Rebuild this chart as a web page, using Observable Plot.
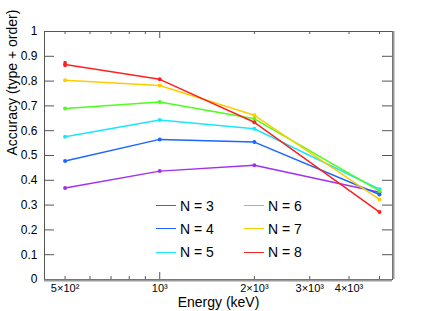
<!DOCTYPE html>
<html>
<head>
<meta charset="utf-8">
<script src="https://cdn.jsdelivr.net/npm/d3@7"></script>
<script src="https://cdn.jsdelivr.net/npm/@observablehq/plot@0.6"></script>
<style>
  html, body { margin: 0; padding: 0; background: #fff; }
  #wrap { position: relative; width: 436px; height: 311px; font-family: "Liberation Sans", Arial, sans-serif; }
  .leg { position: absolute; display: flex; align-items: center; font-size: 14px; color: #000; white-space: nowrap; }
  .leg span.sw { display: inline-block; width: 20px; height: 0; border-top: 1.5px solid; margin-right: 4px; }
</style>
</head>
<body>
<div id="wrap"></div>
<script>
const energies = [500, 1000, 2000, 5000];
const seriesNames = ["N = 3", "N = 4", "N = 5", "N = 6", "N = 7", "N = 8"];
const acc3 = [0.369, 0.437, 0.461, 0.352];
const acc4 = [0.478, 0.565, 0.554, 0.343];
const acc5 = [0.576, 0.643, 0.608, 0.364];
const acc6 = [0.690, 0.716, 0.648, 0.357];
const acc7 = [0.803, 0.782, 0.662, 0.323];
const acc8 = [0.867, 0.807, 0.634, 0.272];
const err8 = [0.012, 0, 0, 0];
const colors = ["#a030f0", "#1a66ff", "#19e6ff", "#4dff1a", "#ffcc00", "#ff2020"];
const xTickValues = [500, 1000, 2000, 3000, 4000];
const xTickLabels = ["5×10²", "10³", "2×10³", "3×10³", "4×10³"];
const xMinorTicks = [500, 600, 700, 800, 900, 2000, 3000, 4000, 5000];
const xMajorTicks = [1000];
const yTickValues = [0, 0.1, 0.2, 0.3, 0.4, 0.5, 0.6, 0.7, 0.8, 0.9, 1];

const allSeries = [acc3, acc4, acc5, acc6, acc7, acc8];
const data = [];
allSeries.forEach((vals, i) => vals.forEach((v, j) => data.push({series: seriesNames[i], energy: energies[j], acc: v})));
const errData = energies.map((e, j) => ({series: "N = 8", energy: e, lo: acc8[j] - err8[j], hi: acc8[j] + err8[j]})).filter((d, j) => err8[j] > 0);

const W = 436, H = 311, mL = 44, mR = 44, mT = 31, mB = 32;
const fw = W - mL - mR, fh = H - mT - mB;
const axisColor = "#555";

const chart = Plot.plot({
  width: W, height: H,
  marginLeft: mL, marginRight: mR, marginTop: mT, marginBottom: mB,
  style: {fontFamily: "'Liberation Sans', Arial, sans-serif", background: "#fff"},
  x: {type: "log", domain: [430, 5500], axis: null},
  y: {domain: [0, 1], axis: null},
  color: {domain: seriesNames, range: colors},
  marks: [
    // ticks (inward)
    Plot.tickX(xMinorTicks, {x: d => d, insetTop: fh - 3, stroke: axisColor}),
    Plot.tickX(xMinorTicks, {x: d => d, insetBottom: fh - 3, stroke: axisColor}),
    Plot.tickX(xMajorTicks, {x: d => d, insetTop: fh - 7, stroke: axisColor}),
    Plot.tickX(xMajorTicks, {x: d => d, insetBottom: fh - 7, stroke: axisColor}),
    Plot.tickY(yTickValues, {y: d => d, insetRight: fw - 10, stroke: axisColor}),
    Plot.tickY(yTickValues, {y: d => d, insetLeft: fw - 10, stroke: axisColor}),
    Plot.text(xTickValues, {x: d => d, text: (d, i) => xTickLabels[i], frameAnchor: "bottom", dy: 12, lineAnchor: "bottom", fontSize: 11}),
    Plot.text(yTickValues, {y: d => d, text: d => (d === 0 ? "0" : d === 1 ? "1" : d.toFixed(1)), frameAnchor: "left", dx: -7, textAnchor: "end", fontSize: 12}),
    Plot.frame({stroke: axisColor}),
    Plot.ruleX([5500], {stroke: "#999", strokeWidth: 2, dx: 1}),
    Plot.ruleY([0], {stroke: "#999", strokeWidth: 2, dy: 1}),
    Plot.line(data, {x: "energy", y: "acc", z: "series", stroke: "series", strokeWidth: 1.5}),
    Plot.ruleX(errData, {x: "energy", y1: "lo", y2: "hi", stroke: "series", strokeWidth: 3}),
    Plot.dot(data, {x: "energy", y: "acc", fill: "series", r: 2}),
    Plot.text(["Energy (keV)"], {frameAnchor: "bottom", dy: 27, lineAnchor: "bottom", fontSize: 14}),
    Plot.text(["Accuracy (type + order)"], {frameAnchor: "left", dx: -28, rotate: -90, lineAnchor: "bottom", fontSize: 14})
  ]
});

const wrap = document.getElementById("wrap");
wrap.appendChild(chart);

// legend overlay (inside frame)
const legendPos = [
  {left: 156, top: 205.5}, {left: 156, top: 228.5}, {left: 156, top: 252.3},
  {left: 244, top: 205.5}, {left: 244, top: 228.5}, {left: 244, top: 252.3}
];
seriesNames.forEach((name, i) => {
  const d = document.createElement("div");
  d.className = "leg";
  d.style.left = legendPos[i].left + "px";
  d.style.top = (legendPos[i].top - 9) + "px";
  d.style.height = "18px";
  const sw = document.createElement("span");
  sw.className = "sw";
  sw.style.borderTopColor = colors[i];
  d.appendChild(sw);
  d.appendChild(document.createTextNode(name));
  wrap.appendChild(d);
});
</script>
</body>
</html>
